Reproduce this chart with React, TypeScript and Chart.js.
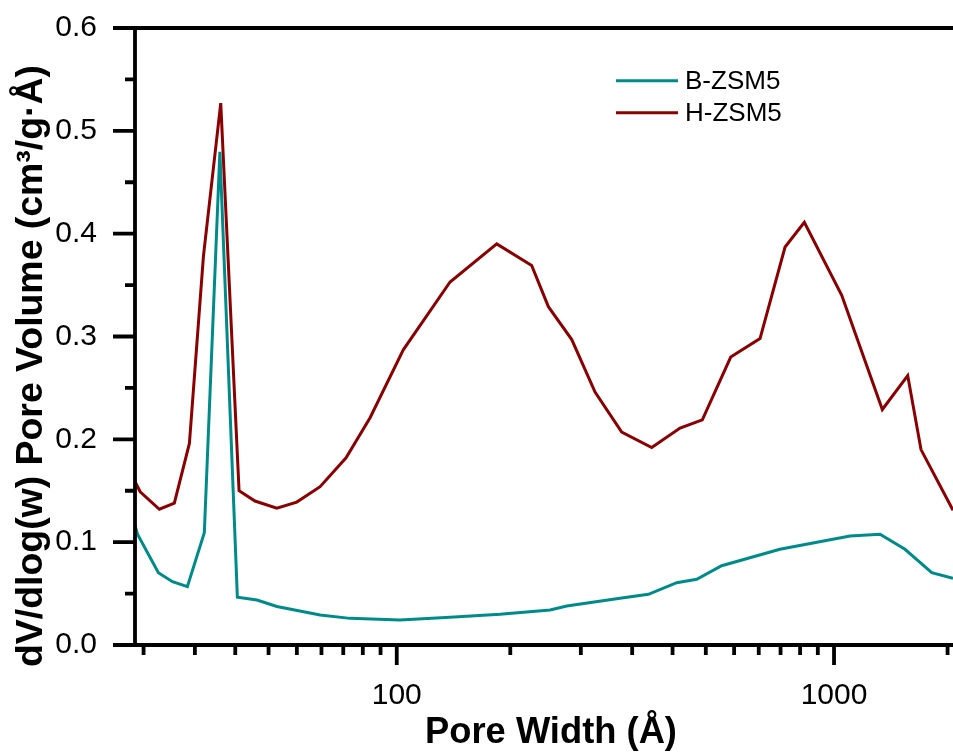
import React, { useEffect, useRef } from 'react';
import { Chart, registerables } from 'chart.js';

Chart.register(...registerables);

// ---- data (pore width in Å, dV/dlog(w) in cm³/g·Å) ----
const seriesNames = ['B-ZSM5', 'H-ZSM5'];
const seriesColors = ['#008B8B', '#8B0000'];

const bWidth = [24.5, 25.55, 28.5, 30.7, 33.2, 36.3, 39.4, 43.2, 47.9, 53.2, 66.8, 78.2, 101.7, 132.4, 172.3, 224.2, 244.8, 324, 376.2, 436.9, 485.3, 553.5, 752, 1088, 1274, 1453, 1673, 1871];
const bVolume = [0.134, 0.1075, 0.0703, 0.0616, 0.0567, 0.1092, 0.4797, 0.0464, 0.0438, 0.0374, 0.0292, 0.0259, 0.0243, 0.0269, 0.0299, 0.034, 0.0379, 0.0454, 0.0493, 0.0606, 0.0639, 0.0771, 0.0931, 0.106, 0.1077, 0.0931, 0.0703, 0.0649];

const hWidth = [24.5, 25.9, 28.65, 31.0, 33.56, 36.13, 39.58, 43.59, 47.4, 53.17, 59.06, 66.79, 76.57, 86.9, 103.5, 132.4, 169.3, 203.5, 222.2, 251.3, 284.1, 326.9, 382.9, 444.5, 499.8, 580.4, 677.3, 772.7, 855.3, 1041.4, 1289.6, 1474, 1581, 1871];
const hVolume = [0.169, 0.149, 0.132, 0.138, 0.196, 0.378, 0.527, 0.15, 0.14, 0.133, 0.139, 0.154, 0.182, 0.221, 0.287, 0.353, 0.39, 0.369, 0.329, 0.297, 0.246, 0.207, 0.192, 0.211, 0.219, 0.28, 0.298, 0.387, 0.411, 0.34, 0.229, 0.262, 0.19, 0.131];

const xTickValues = [100, 1000];
const yTickValues = [0, 0.1, 0.2, 0.3, 0.4, 0.5, 0.6];
const yMinorTickValues = [0.05, 0.15, 0.25, 0.35, 0.45, 0.55];
const xMin = 25.2;
const xMax = 1871;
const yMin = 0;
const yMax = 0.6;

const xTitle = 'Pore Width (Å)';
const yTitle = 'dV/dlog(w) Pore Volume (cm³/g·Å)';

const FONT = "'Liberation Sans', Arial, Helvetica, sans-serif";

function xMinorTicks(): number[] {
  const out: number[] = [];
  for (const d of [1, 10, 100, 1000]) {
    for (let k = 1; k <= 10; k++) {
      const v = d + (k * 9 * d) / 11;
      if (v > xMin && v < xMax) out.push(v);
    }
  }
  return out;
}

function fitBoldFont(ctx: CanvasRenderingContext2D, text: string, target: number): string {
  ctx.font = `bold 36px ${FONT}`;
  const w = ctx.measureText(text).width || target;
  const size = Math.max(20, Math.min(48, (36 * target) / w));
  return `bold ${size.toFixed(2)}px ${FONT}`;
}

const originAxes = {
  id: 'originAxes',
  afterDraw(chart: any) {
    const ctx = chart.ctx as CanvasRenderingContext2D;
    const { left, right, top, bottom } = chart.chartArea;
    const xs = chart.scales.x;
    const ys = chart.scales.y;
    ctx.save();
    ctx.strokeStyle = '#000';
    ctx.lineWidth = 3.8;
    ctx.lineCap = 'butt';
    ctx.beginPath();
    ctx.moveTo(left - 22, top);
    ctx.lineTo(right, top);
    ctx.moveTo(left - 22, bottom);
    ctx.lineTo(right, bottom);
    ctx.moveTo(left, top - 1.9);
    ctx.lineTo(left, bottom + 1.9);
    for (const v of yTickValues) {
      const y = ys.getPixelForValue(v);
      ctx.moveTo(left - 22, y);
      ctx.lineTo(left, y);
    }
    for (const v of yMinorTickValues) {
      const y = ys.getPixelForValue(v);
      ctx.moveTo(left - 10, y);
      ctx.lineTo(left, y);
    }
    for (const v of xTickValues) {
      const x = xs.getPixelForValue(v);
      ctx.moveTo(x, bottom);
      ctx.lineTo(x, bottom + 20);
    }
    for (const v of xMinorTicks()) {
      const x = xs.getPixelForValue(v);
      ctx.moveTo(x, bottom);
      ctx.lineTo(x, bottom + 10);
    }
    ctx.stroke();

    ctx.fillStyle = '#000';
    ctx.textAlign = 'center';
    ctx.textBaseline = 'alphabetic';
    ctx.font = fitBoldFont(ctx, xTitle, 252);
    ctx.fillText(xTitle, 551, 743);
    ctx.save();
    ctx.font = fitBoldFont(ctx, yTitle, 602);
    ctx.translate(42, 366);
    ctx.rotate(-Math.PI / 2);
    ctx.fillText(yTitle, 0, 0);
    ctx.restore();

    const ds = chart.data.datasets;
    ctx.font = `26px ${FONT}`;
    ctx.textAlign = 'left';
    ctx.textBaseline = 'middle';
    ds.forEach((d: any, i: number) => {
      const y = 80.7 + i * 32;
      ctx.strokeStyle = d.borderColor;
      ctx.lineWidth = 3;
      ctx.beginPath();
      ctx.moveTo(616, y);
      ctx.lineTo(678, y);
      ctx.stroke();
      ctx.fillStyle = '#000';
      ctx.fillText(d.label, 685, y + 1);
    });
    ctx.restore();
  },
};

function zeroPad(s: any) {
  s.paddingTop = 0;
  s.paddingBottom = 0;
  s.paddingLeft = 0;
  s.paddingRight = 0;
}

export default function App() {
  const ref = useRef<HTMLCanvasElement | null>(null);
  useEffect(() => {
    document.body.style.margin = '0';
    const canvas = ref.current;
    if (!canvas) return;
    const chart = new Chart(canvas, {
      type: 'line',
      data: {
        datasets: [
          {
            label: seriesNames[0],
            data: bWidth.map((x, i) => ({ x, y: bVolume[i] })),
            borderColor: seriesColors[0],
            backgroundColor: seriesColors[0],
            borderWidth: 3,
            pointRadius: 0,
            tension: 0,
            clip: 0,
          },
          {
            label: seriesNames[1],
            data: hWidth.map((x, i) => ({ x, y: hVolume[i] })),
            borderColor: seriesColors[1],
            backgroundColor: seriesColors[1],
            borderWidth: 3,
            pointRadius: 0,
            tension: 0,
            clip: 0,
          },
        ],
      },
      options: {
        responsive: false,
        animation: false,
        devicePixelRatio: 1,
        layout: { padding: { top: 28, right: 0, left: 0, bottom: 0 } },
        plugins: { legend: { display: false }, tooltip: { enabled: false } },
        scales: {
          x: {
            type: 'logarithmic',
            min: xMin,
            max: xMax,
            border: { display: false },
            grid: { display: false, drawTicks: false, tickLength: 0 },
            ticks: {
              color: '#000',
              font: { family: FONT, size: 30 },
              padding: 33,
              maxRotation: 0,
              autoSkip: false,
              callback: (v: any) => String(v),
            },
            afterBuildTicks: (s: any) => {
              s.ticks = xTickValues.map((v) => ({ value: v }));
            },
            afterFit: (s: any) => {
              s.height = 110;
              zeroPad(s);
            },
          },
          y: {
            type: 'linear',
            min: yMin,
            max: yMax,
            border: { display: false },
            grid: { display: false, drawTicks: false, tickLength: 0 },
            ticks: {
              color: '#000',
              font: { family: FONT, size: 30 },
              padding: 38,
              callback: (v: any) => Number(v).toFixed(1),
            },
            afterBuildTicks: (s: any) => {
              s.ticks = yTickValues.map((v) => ({ value: v }));
            },
            afterFit: (s: any) => {
              s.width = 135;
              zeroPad(s);
            },
          },
        },
      },
      plugins: [originAxes],
    });
    return () => chart.destroy();
  }, []);
  return (
    <div style={{ position: 'absolute', left: 0, top: 0, width: 953, height: 755, background: '#fff' }}>
      <canvas ref={ref} width={953} height={755} style={{ display: 'block' }} />
    </div>
  );
}
